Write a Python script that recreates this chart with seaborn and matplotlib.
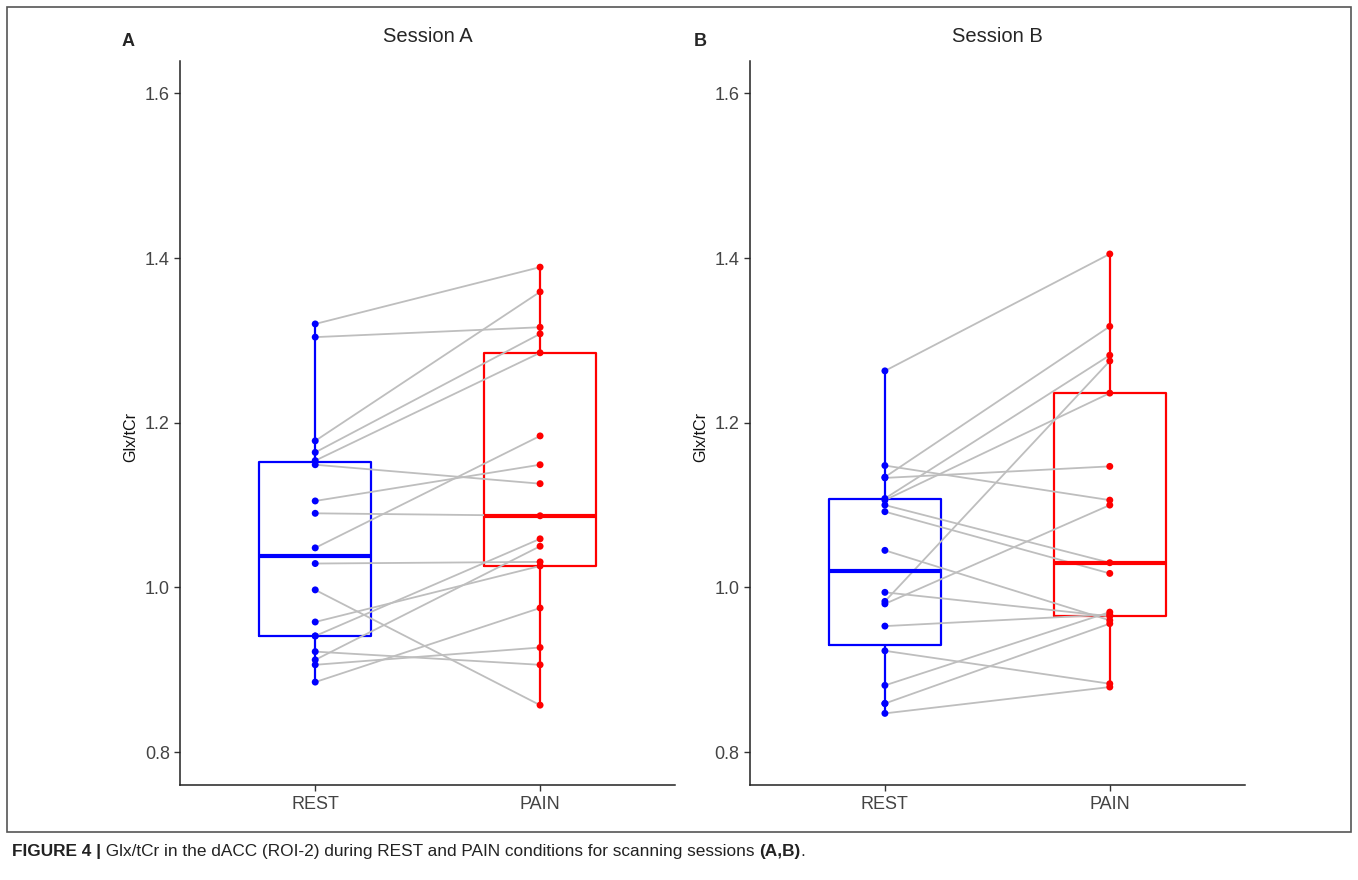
import numpy as np
import pandas as pd
import seaborn as sns
import matplotlib.pyplot as plt
from matplotlib.patches import Rectangle

sns.set_style("white")
plt.rcParams['font.family'] = ['Liberation Sans', 'DejaVu Sans']

# Glx/tCr per subject, REST paired with PAIN (nan = no PAIN scan)
rest_a = [1.320, 1.304, 1.178, 1.164, 1.154, 1.149, 1.105, 1.090, 1.048,
          1.029, 0.997, 0.958, 0.941, 0.941, 0.922, 0.912, 0.906, 0.885]
pain_a = [1.389, 1.316, 1.359, 1.308, 1.285, 1.126, 1.149, 1.087, 1.184,
          1.031, 0.857, 1.026, 1.059, np.nan, 0.906, 1.050, 0.927, 0.975]

rest_b = [1.263, 1.148, 1.134, 1.133, 1.108, 1.106, 1.100, 1.092, 1.045,
          0.994, 0.983, 0.980, 0.953, 0.923, 0.881, 0.859, 0.859, 0.847]
pain_b = [1.405, 1.106, 1.317, 1.147, 1.282, 1.236, 1.030, 1.017, 0.960,
          0.965, 1.275, 1.100, 0.967, 0.883, 0.970, 0.956, np.nan, 0.879]

conditions = ['REST', 'PAIN']
palette = {'REST': '#0000FF', 'PAIN': '#FF0000'}
y_ticks = [0.8, 1.0, 1.2, 1.4, 1.6]

W, H = 1358, 880


def make_df(rest, pain):
    n = len(rest)
    df = pd.DataFrame({'subject': np.tile(np.arange(n), 2),
                       'condition': ['REST'] * n + ['PAIN'] * n,
                       'ratio': rest + pain})
    return df.dropna()


def draw_panel(ax, rest, pain, title):
    df = make_df(rest, pain)
    sns.boxplot(data=df, x='condition', y='ratio', hue='condition', order=conditions,
                hue_order=conditions, palette=palette, fill=False, width=0.5, linewidth=1.6,
                showcaps=False, showfliers=False, medianprops={'linewidth': 3},
                legend=False, ax=ax)
    sns.lineplot(data=df, x='condition', y='ratio', units='subject', estimator=None,
                 color='#BEBEBE', linewidth=1.3, ax=ax)
    sns.stripplot(data=df, x='condition', y='ratio', hue='condition', order=conditions,
                  hue_order=conditions, palette=palette, jitter=False, size=5,
                  linewidth=0, legend=False, ax=ax, zorder=3)
    ax.set_xlim(-0.6, 1.6)
    ax.set_ylim(0.76, 1.64)
    ax.set_yticks(y_ticks)
    ax.set_yticklabels([f"{t:.1f}" for t in y_ticks])
    ax.set_xlabel('')
    ax.set_ylabel('Glx/tCr', fontsize=11.5, color='#111111')
    ax.yaxis.set_label_coords(-0.085, 0.48)
    ax.set_title(title, fontsize=14.5, pad=13)
    for s in ['top', 'right']:
        ax.spines[s].set_visible(False)
    for s in ['left', 'bottom']:
        ax.spines[s].set_color('#222222')
        ax.spines[s].set_linewidth(1.1)
    ax.tick_params(axis='both', length=4, width=1, color='#333333', labelsize=13,
                   labelcolor='#444444', left=True, bottom=True)
    ax.tick_params(axis='x', pad=4)


fig = plt.figure(figsize=(W / 100, H / 100), dpi=100)
ax_w = (675 - 180.3) / W
ax_h = (785 - 60.5) / H
axA = fig.add_axes([180.3 / W, 1 - 785 / H, ax_w, ax_h])
axB = fig.add_axes([750 / W, 1 - 785 / H, ax_w, ax_h])

draw_panel(axA, rest_a, pain_a, 'Session A')
draw_panel(axB, rest_b, pain_b, 'Session B')

fig.text(128 / W, 1 - 41 / H, 'A', fontsize=13, fontweight='bold', ha='center', va='center')
fig.text(700 / W, 1 - 41 / H, 'B', fontsize=13, fontweight='bold', ha='center', va='center')

fig.patches.append(Rectangle((7 / W, 1 - 832 / H), (1351 - 7) / W, (832 - 7) / H,
                             transform=fig.transFigure, fill=False,
                             edgecolor='#555555', linewidth=1.2))

# caption, pieced together so the bold parts stay bold
parts = [('FIGURE 4 |', 'bold'),
         (' Glx/tCr in the dACC (ROI-2) during REST and PAIN conditions for scanning sessions ', 'normal'),
         ('(A,B)', 'bold'), ('.', 'normal')]
renderer = fig.canvas.get_renderer()
x = 12 / W
for txt, wt in parts:
    t = fig.text(x, 1 - 851 / H, txt, fontsize=12.4, fontweight=wt, va='center', ha='left',
                 color='#222222')
    bb = t.get_window_extent(renderer=renderer)
    x += bb.width / W

fig.savefig('out.png', dpi=100)
